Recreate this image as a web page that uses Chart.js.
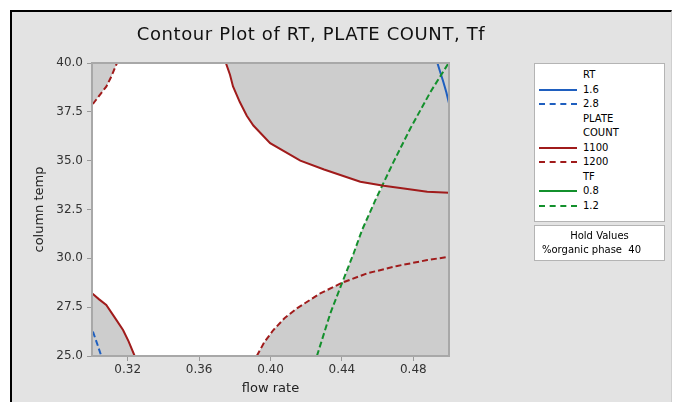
<!DOCTYPE html>
<html>
<head>
<meta charset="utf-8">
<script src="https://cdn.jsdelivr.net/npm/chart.js@4.4.1/dist/chart.umd.min.js"></script>
<style>
  body { margin: 0; background: #fff; width: 673px; height: 402px; overflow: hidden; position: relative; }
  #frame { position: absolute; left: 10px; top: 10px; width: 659px; height: 400px; background: #e3e3e3;
           border-top: 2px solid #000; border-left: 2px solid #000; border-right: 1px solid #cfcfcf; }
  #c { position: absolute; left: 0; top: 0; }
  #title { position: absolute; left: 0; width: 622px; top: 23px; text-align: center; letter-spacing: 0.6px;
           font: 18px "DejaVu Sans", sans-serif; color: #111; }
  .box { position: absolute; left: 534px; width: 129px; background: #fff; border: 1px solid #b4b4b4;
         font: 10px "DejaVu Sans", sans-serif; color: #000; }
  .row { position: absolute; left: 0; height: 14px; line-height: 14px; }
  .txt { position: absolute; left: 48px; white-space: nowrap; }
  .ln { position: absolute; left: 4px; width: 38px; top: 6px; height: 0; }
</style>
</head>
<body>
<div id="frame"></div>
<canvas id="c" width="673" height="402"></canvas>
<div id="title">Contour Plot of RT, PLATE COUNT, Tf</div>
<div class="box" id="legend" style="top:63px;height:157px;"></div>
<div class="box" style="top:225px;height:34px;">
  <div style="position:absolute;left:0;width:129px;top:4px;text-align:center;">Hold Values</div>
  <div style="position:absolute;left:7px;top:18px;white-space:nowrap;">%organic phase&nbsp;&nbsp;40</div>
</div>
<script>
// contour lines, [flow rate, column temp]
const rt16 = [[0.4935, 40], [0.4952, 39.5], [0.4968, 39.04], [0.4985, 38.5], [0.5, 37.94]];
const rt28 = [[0.3005, 26.25], [0.303, 25.6], [0.3052, 25.0]];
const pc1100a = [[0.375, 40], [0.3773, 39.4], [0.379, 38.8], [0.3828, 38.0], [0.3867, 37.3], [0.3904, 36.8],
  [0.3998, 35.9], [0.4167, 35.0], [0.43, 34.55], [0.4503, 33.92], [0.4634, 33.72], [0.4747, 33.58],
  [0.4878, 33.41], [0.5, 33.36]];
const pc1100b = [[0.3, 28.21], [0.304, 27.9], [0.308, 27.61], [0.3125, 27.0], [0.3174, 26.33], [0.3205, 25.75], [0.3239, 25.0]];
const pc1200a = [[0.3005, 37.9], [0.3043, 38.36], [0.308, 38.79], [0.3108, 39.3], [0.314, 40]];
const pc1200b = [[0.3923, 25.0], [0.3965, 25.7], [0.4016, 26.33], [0.408, 26.95], [0.4148, 27.44], [0.4279, 28.21],
  [0.4401, 28.75], [0.4541, 29.23], [0.471, 29.61], [0.4878, 29.91], [0.5, 30.08]];
const tf12 = [[0.426, 25], [0.4335, 27.18], [0.44, 28.72], [0.4466, 30.26], [0.4513, 31.45], [0.4588, 32.99],
  [0.469, 34.95], [0.4784, 36.66], [0.4897, 38.53], [0.4998, 40]];
// where the boundaries cross
const crossHi = [0.463, 33.73];
const crossLo = [0.4403, 28.75];

const xTicks = [0.32, 0.36, 0.40, 0.44, 0.48];

const legendItems = [
  { head: 'RT' },
  { text: '1.6', color: '#1f5fbf', dash: false },
  { text: '2.8', color: '#1f5fbf', dash: true },
  { head: 'PLATE' },
  { head: 'COUNT' },
  { text: '1100', color: '#a01b1b', dash: false },
  { text: '1200', color: '#a01b1b', dash: true },
  { head: 'TF' },
  { text: '0.8', color: '#13902c', dash: false },
  { text: '1.2', color: '#13902c', dash: true }
];

// white (feasible) area, built from the boundary curves
const white = [].concat(
  pc1200a,
  pc1100a.filter(p => p[0] < crossHi[0]),
  [crossHi],
  tf12.filter(p => p[1] < crossHi[1] && p[1] > crossLo[1]).reverse(),
  [crossLo],
  pc1200b.filter(p => p[0] < crossLo[0]).reverse(),
  pc1100b.slice().reverse(),
  [pc1200a[0]]
);

const pts = a => a.map(p => ({ x: p[0], y: p[1] }));

function curve(a, color, dash) {
  return {
    data: pts(a), borderColor: color, borderWidth: 2, borderDash: dash ? [6, 3] : [],
    pointRadius: 0, fill: false, tension: 0, order: 1
  };
}

// legend
const lg = document.getElementById('legend');
legendItems.forEach((it, i) => {
  const r = document.createElement('div');
  r.className = 'row';
  r.style.top = (4 + i * 14.5) + 'px';
  let html = '<span class="txt">' + (it.head || it.text) + '</span>';
  if (!it.head) {
    html += '<div class="ln" style="border-top:2px ' + (it.dash ? 'dashed' : 'solid') + ' ' + it.color + '"></div>';
  }
  r.innerHTML = html;
  lg.appendChild(r);
});

const plotBg = {
  id: 'plotBg',
  beforeDraw(chart) {
    const a = chart.chartArea, c = chart.ctx;
    c.save();
    c.fillStyle = '#cdcdcd';
    c.fillRect(a.left, a.top, a.right - a.left, a.bottom - a.top);
    c.restore();
  },
  afterDatasetsDraw(chart) {
    const a = chart.chartArea, c = chart.ctx;
    c.save();
    c.strokeStyle = '#a8a8a8';
    c.lineWidth = 2;
    c.strokeRect(a.left, a.top, a.right - a.left, a.bottom - a.top);
    c.restore();
  }
};

new Chart(document.getElementById('c'), {
  type: 'line',
  data: {
    datasets: [
      { data: pts(white), backgroundColor: '#ffffff', borderColor: 'rgba(0,0,0,0)', borderWidth: 1,
        pointRadius: 0, fill: 'shape', tension: 0, order: 10 },
      curve(pc1200a, '#a01b1b', true),
      curve(pc1200b, '#a01b1b', true),
      curve(pc1100a, '#a01b1b', false),
      curve(pc1100b, '#a01b1b', false),
      curve(tf12, '#13902c', true),
      curve(rt16, '#1f5fbf', false),
      curve(rt28, '#1f5fbf', true)
    ]
  },
  options: {
    responsive: false,
    animation: false,
    devicePixelRatio: 1,
    layout: { padding: { left: 0, top: 63, right: 224, bottom: 0 } },
    plugins: { legend: { display: false }, tooltip: { enabled: false } },
    scales: {
      x: {
        type: 'linear', min: 0.3, max: 0.5,
        afterBuildTicks: s => { s.ticks = xTicks.map(v => ({ value: v })); },
        afterFit: s => { s.height = 46; },
        ticks: { color: '#333', font: { family: 'DejaVu Sans', size: 12 }, padding: 2,
                 callback: v => v.toFixed(2), maxRotation: 0 },
        grid: { drawOnChartArea: false, tickLength: 5, color: '#9a9a9a' },
        border: { display: false },
        title: { display: true, text: 'flow rate', color: '#222',
                 font: { family: 'DejaVu Sans', size: 13 }, padding: { top: 0, bottom: 6 } }
      },
      y: {
        type: 'linear', min: 25, max: 40,
        afterFit: s => { s.width = 92; },
        ticks: { stepSize: 2.5, color: '#333', font: { family: 'DejaVu Sans', size: 12 }, padding: 4,
                 callback: v => v.toFixed(1) },
        grid: { drawOnChartArea: false, tickLength: 5, color: '#9a9a9a' },
        border: { display: false },
        title: { display: true, text: 'column temp', color: '#222',
                 font: { family: 'DejaVu Sans', size: 13 }, padding: { top: 32, bottom: 0 } }
      }
    }
  },
  plugins: [plotBg]
});
</script>
</body>
</html>
